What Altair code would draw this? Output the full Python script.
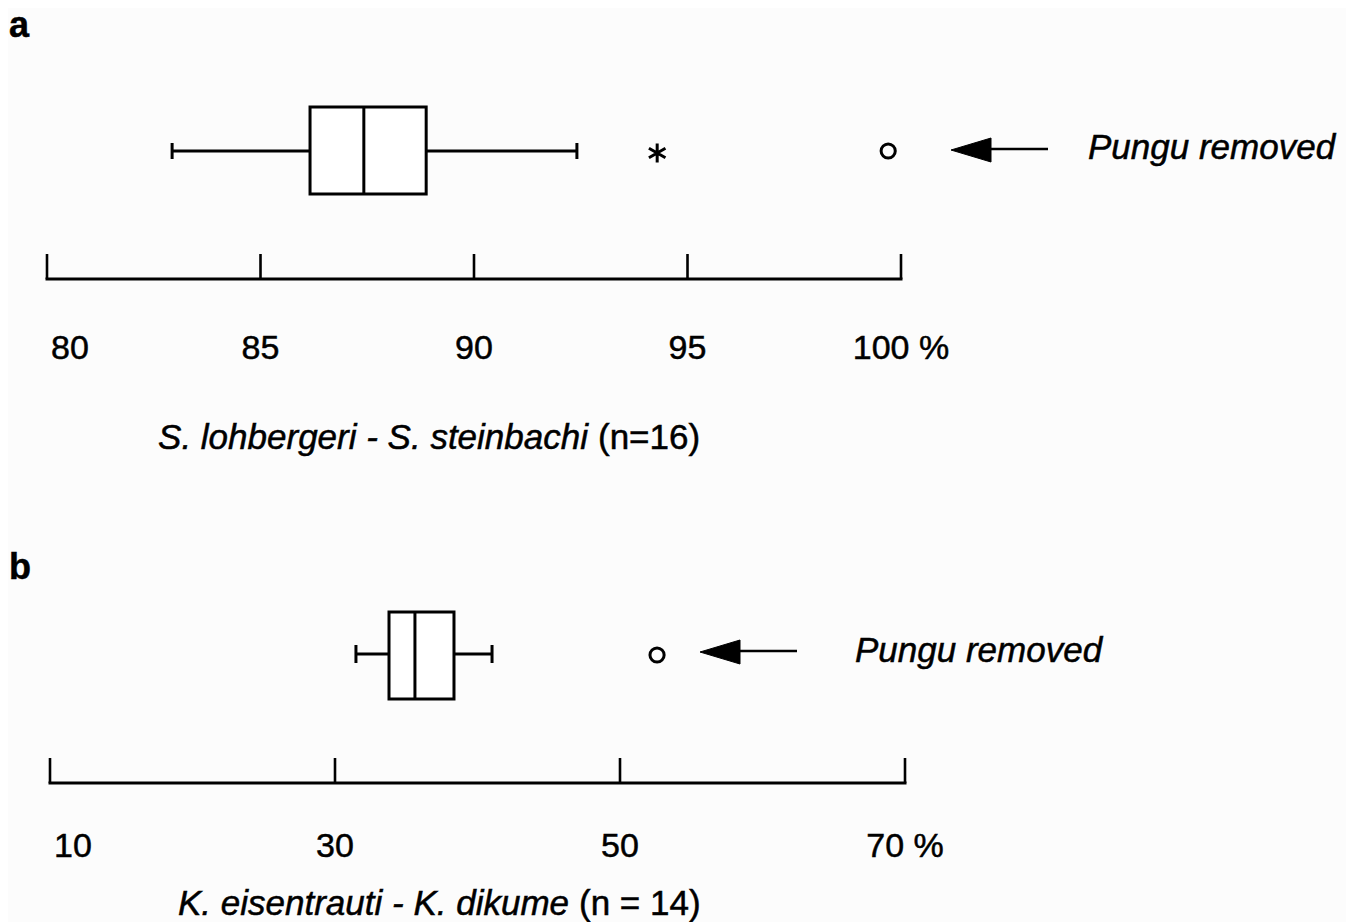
import altair as alt
import pandas as pd

# ---------------- data ----------------
# panel a
a_ticks = [80, 85, 90, 95, 100]
a_tick_labels = ["80", "85", "90", "95", "100 %"]
a_stats = ["min", "q1", "median", "q3", "max"]
a_values = [82.93, 86.16, 87.42, 88.88, 92.41]
a_extremes = [94.29]      # asterisk
a_outliers = [99.70]      # circle
a_letter = "a"
a_title_italic = "S. lohbergeri - S. steinbachi"
a_title_roman = "(n=16)"
a_note = "Pungu removed"

# panel b
b_ticks = [10, 30, 50, 70]
b_tick_labels = ["10", "30", "50", "70 %"]
b_stats = ["min", "q1", "median", "q3", "max"]
b_values = [31.47, 33.79, 35.61, 38.35, 41.02]
b_extremes = []
b_outliers = [52.6]
b_letter = "b"
b_title_italic = "K. eisentrauti - K. dikume"
b_title_roman = "(n = 14)"
b_note = "Pungu removed"

FONT = "Liberation Sans"
W = 1338
ASTERISK = "M0,-1L0,1M-0.87,-0.5L0.87,0.5M-0.87,0.5L0.87,-0.5"
ARROWHEAD = "M0,0L2,-0.6L2,0.6Z"
TXT = dict(font=FONT, color="black", stroke="black", strokeWidth=0.5, baseline="alphabetic")


def panel(ticks, tick_labels, stats, values, extremes, outliers, letter,
          title_it, title_rm, note, L, height):
    scale = alt.Scale(domain=[ticks[0], ticks[-1]], range=L["range"], nice=False, zero=False)
    box = pd.DataFrame([dict(zip(stats, values))])
    tk = pd.DataFrame({"v": ticks, "lab": tick_labels})
    ax = pd.DataFrame({"lo": [ticks[0]], "hi": [ticks[-1]]})
    one = pd.DataFrame({"k": [0]})

    def X(f):
        return alt.X(f, type="quantitative", scale=scale, axis=None)

    lw = 3
    layers = []
    # whiskers
    layers.append(alt.Chart(box).mark_rule(color="black", strokeWidth=lw).encode(
        x=X("min"), x2="q1", y=alt.value(L["mid"])))
    layers.append(alt.Chart(box).mark_rule(color="black", strokeWidth=lw).encode(
        x=X("q3"), x2="max", y=alt.value(L["mid"])))
    layers.append(alt.Chart(box).mark_rule(color="black", strokeWidth=lw).encode(
        x=X("min"), y=alt.value(L["mid"] - L["cap"]), y2=alt.value(L["mid"] + L["cap"])))
    layers.append(alt.Chart(box).mark_rule(color="black", strokeWidth=lw).encode(
        x=X("max"), y=alt.value(L["mid"] - L["cap"]), y2=alt.value(L["mid"] + L["cap"])))
    # box
    layers.append(alt.Chart(box).mark_rect(fill="white", stroke="black", strokeWidth=lw).encode(
        x=X("q1"), x2="q3", y=alt.value(L["btop"]), y2=alt.value(L["bbot"])))
    layers.append(alt.Chart(box).mark_rule(color="black", strokeWidth=lw).encode(
        x=X("median"), y=alt.value(L["btop"]), y2=alt.value(L["bbot"])))
    # extremes / outliers
    if extremes:
        layers.append(alt.Chart(pd.DataFrame({"v": extremes})).mark_point(
            shape=ASTERISK, size=361, filled=False, stroke="black", strokeWidth=3, opacity=1).encode(
            x=X("v"), y=alt.value(L["mid"] + 2)))
    layers.append(alt.Chart(pd.DataFrame({"v": outliers})).mark_point(
        shape="circle", size=201, filled=False, stroke="black", strokeWidth=3, opacity=1).encode(
        x=X("v"), y=alt.value(L["circ_y"])))
    # arrow
    layers.append(alt.Chart(one).mark_rule(color="black", strokeWidth=2.5).encode(
        x=alt.value(L["tip"] + 38), x2=alt.value(L["tail"]), y=alt.value(L["arr_y"] - 1)))
    layers.append(alt.Chart(one).mark_point(
        shape=ARROWHEAD, size=1600, filled=True, fill="black", stroke="black",
        strokeWidth=1, opacity=1).encode(x=alt.value(L["tip"]), y=alt.value(L["arr_y"])))
    layers.append(alt.Chart(one).mark_text(
        text=note, fontSize=35, fontStyle="italic", align="left", **TXT).encode(
        x=alt.value(L["note_x"]), y=alt.value(L["note_y"])))
    # axis
    layers.append(alt.Chart(ax).mark_rule(color="black", strokeWidth=lw, strokeCap="square").encode(
        x=X("lo"), x2="hi", y=alt.value(L["axis_y"])))
    layers.append(alt.Chart(tk).mark_rule(color="black", strokeWidth=2.6).encode(
        x=X("v"), y=alt.value(L["tick_top"]), y2=alt.value(L["axis_y"])))
    layers.append(alt.Chart(tk.iloc[:1]).mark_text(
        fontSize=34, align="left", dx=4, **TXT).encode(
        x=X("v"), y=alt.value(L["lab_y"]), text="lab:N"))
    layers.append(alt.Chart(tk.iloc[1:]).mark_text(
        fontSize=34, align="center", **TXT).encode(
        x=X("v"), y=alt.value(L["lab_y"]), text="lab:N"))
    # titles
    layers.append(alt.Chart(one).mark_text(
        text=title_it, fontSize=35, fontStyle="italic", align="right", **TXT).encode(
        x=alt.value(L["title_x"] - 10), y=alt.value(L["title_y"])))
    layers.append(alt.Chart(one).mark_text(
        text=title_rm, fontSize=35, align="left", **TXT).encode(
        x=alt.value(L["title_x"]), y=alt.value(L["title_y"])))
    # panel letter
    layers.append(alt.Chart(one).mark_text(
        text=letter, fontSize=36, fontWeight="bold", align="left", **TXT).encode(
        x=alt.value(1), y=alt.value(L["letter_y"])))
    return alt.layer(*layers).properties(width=W, height=height)


LA = dict(range=[39, 893], mid=141, cap=8, btop=97, bbot=184, circ_y=141,
          tip=943, tail=1040, arr_y=140, note_x=1080, note_y=149,
          axis_y=269, tick_top=244, lab_y=349, title_x=590, title_y=439, letter_y=27)
LB = dict(range=[42, 897], mid=172, cap=9, btop=130, bbot=217, circ_y=173,
          tip=692, tail=789, arr_y=170, note_x=847, note_y=180,
          axis_y=301, tick_top=276, lab_y=375, title_x=571, title_y=433, letter_y=97)

pa = panel(a_ticks, a_tick_labels, a_stats, a_values, a_extremes, a_outliers, a_letter,
           a_title_italic, a_title_roman, a_note, LA, 472)
pb = panel(b_ticks, b_tick_labels, b_stats, b_values, b_extremes, b_outliers, b_letter,
           b_title_italic, b_title_roman, b_note, LB, 440)

chart = alt.vconcat(pa, pb, spacing=0).resolve_scale(x="independent").properties(
    padding=0, background="#fcfcfc"
).configure_view(stroke=None)

chart.save("out.html", embed_options={"renderer": "svg", "actions": False})
